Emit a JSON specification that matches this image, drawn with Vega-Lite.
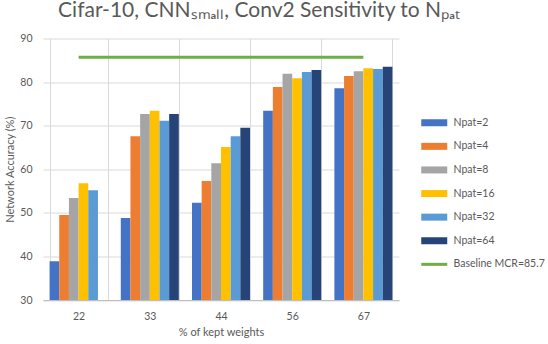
{
  "$schema": "https://vega.github.io/schema/vega-lite/v6.json",
  "autosize": {"type": "none"},
  "width": 356,
  "height": 261.5,
  "padding": {"left": 43, "top": 38.5, "right": 149, "bottom": 44},
  "background": "white",
  "config": {
    "font": "Lato",
    "view": {"stroke": null},
    "axis": {"labelColor": "#595959", "titleColor": "#595959", "labelFont": "Lato", "titleFont": "Lato", "titleFontWeight": "normal"}
  },
  "title": {
    "text": "Cifar-10, CNNₛₘₐₗₗ, Conv2 Sensitivity to Nₚₐₜ",
    "anchor": "middle",
    "frame": "group",
    "dx": 38,
    "dy": 19,
    "offset": 15,
    "baseline": "alphabetic",
    "fontSize": 21,
    "fontWeight": "normal",
    "color": "#595959",
    "font": "Lato"
  },
  "datasets": {
    "bars": [
      {"pct": "22", "series": "Npat=2", "acc": 38.9},
      {"pct": "22", "series": "Npat=4", "acc": 49.5},
      {"pct": "22", "series": "Npat=8", "acc": 53.4},
      {"pct": "22", "series": "Npat=16", "acc": 56.8},
      {"pct": "22", "series": "Npat=32", "acc": 55.2},
      {"pct": "33", "series": "Npat=2", "acc": 48.8},
      {"pct": "33", "series": "Npat=4", "acc": 67.6},
      {"pct": "33", "series": "Npat=8", "acc": 72.7},
      {"pct": "33", "series": "Npat=16", "acc": 73.4},
      {"pct": "33", "series": "Npat=32", "acc": 71.1},
      {"pct": "33", "series": "Npat=64", "acc": 72.7},
      {"pct": "44", "series": "Npat=2", "acc": 52.3},
      {"pct": "44", "series": "Npat=4", "acc": 57.3},
      {"pct": "44", "series": "Npat=8", "acc": 61.4},
      {"pct": "44", "series": "Npat=16", "acc": 65.1},
      {"pct": "44", "series": "Npat=32", "acc": 67.6},
      {"pct": "44", "series": "Npat=64", "acc": 69.5},
      {"pct": "56", "series": "Npat=2", "acc": 73.4},
      {"pct": "56", "series": "Npat=4", "acc": 78.9},
      {"pct": "56", "series": "Npat=8", "acc": 81.9},
      {"pct": "56", "series": "Npat=16", "acc": 80.9},
      {"pct": "56", "series": "Npat=32", "acc": 82.3},
      {"pct": "56", "series": "Npat=64", "acc": 82.8},
      {"pct": "67", "series": "Npat=2", "acc": 78.6},
      {"pct": "67", "series": "Npat=4", "acc": 81.4},
      {"pct": "67", "series": "Npat=8", "acc": 82.5},
      {"pct": "67", "series": "Npat=16", "acc": 83.2},
      {"pct": "67", "series": "Npat=32", "acc": 83.0},
      {"pct": "67", "series": "Npat=64", "acc": 83.5}
    ],
    "baseline": [
      {"pct": "22", "series": "Baseline MCR=85.7", "acc": 85.7},
      {"pct": "67", "series": "Baseline MCR=85.7", "acc": 85.7}
    ]
  },
  "encoding": {
    "x": {
      "field": "pct",
      "type": "ordinal",
      "sort": ["22", "33", "44", "56", "67"],
      "scale": {"paddingInner": 0.185, "paddingOuter": 0.0925},
      "axis": {
        "title": "% of kept weights",
        "labelAngle": 0,
        "tickBand": "extent",
        "grid": true,
        "gridColor": "#d9d9d9",
        "ticks": false,
        "domainColor": "#bfbfbf",
        "labelFontSize": 10.5,
        "labelPadding": 11,
        "labelBaseline": "top",
        "titleFontSize": 11,
        "titlePadding": 5,
        "zindex": 0
      }
    },
    "y": {
      "field": "acc",
      "type": "quantitative",
      "scale": {"domain": [30, 90], "nice": false, "zero": false},
      "axis": {
        "title": "Network Accuracy (%)",
        "values": [30, 40, 50, 60, 70, 80, 90],
        "domain": false,
        "ticks": false,
        "gridColor": "#d9d9d9",
        "labelFontSize": 10.5,
        "labelPadding": 11,
        "titleFontSize": 11,
        "titlePadding": 4
      }
    },
    "color": {
      "field": "series",
      "type": "nominal",
      "scale": {
        "domain": ["Npat=2", "Npat=4", "Npat=8", "Npat=16", "Npat=32", "Npat=64", "Baseline MCR=85.7"],
        "range": ["#4472C4", "#ED7D31", "#A5A5A5", "#FFC000", "#5B9BD5", "#264478", "#70AD47"]
      },
      "legend": {
        "title": null,
        "orient": "none",
        "legendX": 386,
        "legendY": 79,
        "symbolType": "M-2.6,-0.7H2.6V0.7H-2.6Z",
        "symbolSize": 100,
        "symbolStrokeWidth": 0,
        "labelFontSize": 10.5,
        "labelColor": "#595959",
        "labelFont": "Lato",
        "labelOffset": 14,
        "rowPadding": 12.6,
        "encode": {
          "symbols": {
            "update": {
              "shape": {"signal": "datum.value == 'Baseline MCR=85.7' ? 'M-2.6,-0.3H2.6V0.3H-2.6Z' : 'M-2.6,-0.7H2.6V0.7H-2.6Z'"}
            }
          }
        }
      }
    }
  },
  "layer": [
    {
      "data": {"name": "bars"},
      "mark": {"type": "bar", "clip": true},
      "encoding": {
        "xOffset": {
          "field": "series",
          "type": "nominal",
          "sort": ["Npat=2", "Npat=4", "Npat=8", "Npat=16", "Npat=32", "Npat=64"],
          "scale": {"domain": ["Npat=2", "Npat=4", "Npat=8", "Npat=16", "Npat=32", "Npat=64"], "paddingInner": 0, "paddingOuter": 0}
        }
      }
    },
    {
      "data": {"name": "baseline"},
      "mark": {"type": "line", "strokeWidth": 3},
      "encoding": {}
    }
  ]
}
